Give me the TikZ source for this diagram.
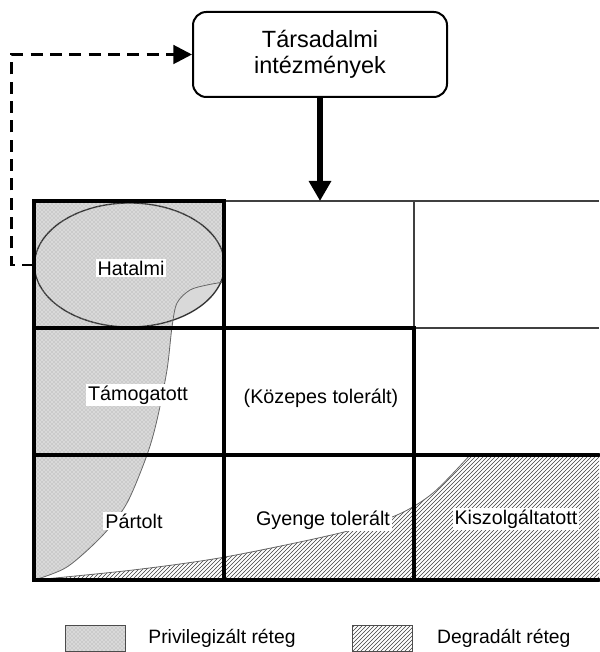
\documentclass[tikz,border=0pt]{standalone}
\usepackage{fontspec}
\setmainfont{Liberation Sans}
\usetikzlibrary{arrows.meta,patterns,shapes.geometric,positioning}

\begin{document}
\begin{tikzpicture}
 [x=0.75pt,y=-0.75pt,
 inst/.style={
  rectangle,
  rounded corners=10pt,
  line width=1.5pt, % border
  draw=black,
  minimum width=190.5pt,
  minimum height=63.75pt,
  align=center,
  font=\fontsize{17.6}{19.5}\selectfont},
 lbl/.style={fill=white, inner sep=1.5pt, font=\fontsize{14.8}{17}\selectfont},
 keytext/.style={inner sep=0pt, font=\fontsize{14.5}{17}\selectfont},
 keybox/.style={rectangle, draw=black!70, line width=0.7pt, minimum width=45pt, minimum height=19.5pt, inner sep=0pt},
 priv/.style={preaction={fill=gray!30}, pattern=crosshatch dots, pattern color=gray!75},
 degr/.style={pattern=north east lines, pattern color=black!75},
 cellthin/.style={line width=0.9pt, draw=black!75},
 cellthick/.style={line width=2.3pt, line cap=round},
 bound/.style={draw=black!60, line width=0.6pt},
 flow/.style={line width=5pt, -{Triangle[length=15pt,width=16pt]}},
 feedback/.style={line width=2.2pt, dash pattern=on 9pt off 5.5pt, -{Triangle[length=14pt,width=14pt]}}]
\useasboundingbox (0,0) rectangle (599,652);

% privileged layer
\fill[gray!30] plot[smooth] coordinates {(34,580) (67,567) (103,535) (127,503) (147,455) (157,420) (167,370) (172,327) (177,303) (190,290) (207,285) (224,282)} -- (224,201) -- (34,201) -- cycle;
\node (elite) [ellipse, fill=gray!30, draw=black!80, line width=1pt, minimum width=142.5pt, minimum height=93pt, inner sep=0pt] at (129.5,265) {};
\path[pattern=crosshatch dots, pattern color=gray!75] plot[smooth] coordinates {(34,580) (67,567) (103,535) (127,503) (147,455) (157,420) (167,370) (172,327) (177,303) (190,290) (207,285) (224,282)} -- (224,201) -- (34,201) -- cycle;
\draw[bound] plot[smooth] coordinates {(34,580) (67,567) (103,535) (127,503) (147,455) (157,420) (167,370) (172,327) (177,303) (190,290) (207,285) (224,282)};

% degraded layer
\path[degr] plot[smooth] coordinates {(34,580) (133,570) (225,557) (340,533) (397,515) (433,493) (470,455)} -- (599,455) -- (599,580) -- cycle;
\draw[bound] plot[smooth] coordinates {(34,580) (133,570) (225,557) (340,533) (397,515) (433,493) (470,455)};

% grid
\draw[cellthin] (224,201) -- (599,201);
\draw[cellthin] (414,201) -- (414,328) -- (599,328);
\draw[cellthick] (34,201) rectangle (224,328);
\draw[cellthick] (34,328) -- (34,580) -- (599,580);
\draw[cellthick] (224,328) -- (224,580);
\draw[cellthick] (34,328) -- (414,328) -- (414,580);
\draw[cellthick] (34,455) -- (599,455);

\node (inst) [inst] at (320,54.5) {Társadalmi\\intézmények};
\coordinate (gridtop) at (320,201);
\path (inst) edge[flow] (gridtop);
\draw[feedback] (elite.west) -- ++(-22,0) |- (inst.west);

\node (hatalmi) [lbl] at (131,268) {Hatalmi};
\node (tamogatott) [lbl] at (138,395) {Támogatott};
\node (kozepes) [lbl, fill=none] at (321,398) {(Közepes tolerált)};
\node (partolt) [lbl] at (134,521) {Pártolt};
\node (gyenge) [lbl] at (323,520) {Gyenge tolerált};
\node (kiszolg) [lbl] at (516,519) {Kiszolgáltatott};

% legend
\node (privkey) [keybox, priv] at (95,638) {};
\node (privtext) [keytext, right=17pt of privkey] {Privilegizált réteg};
\node (degkey) [keybox, degr] at (382.5,638) {};
\node (degtext) [keytext, right=18pt of degkey] {Degradált réteg};
\end{tikzpicture}
\end{document}
